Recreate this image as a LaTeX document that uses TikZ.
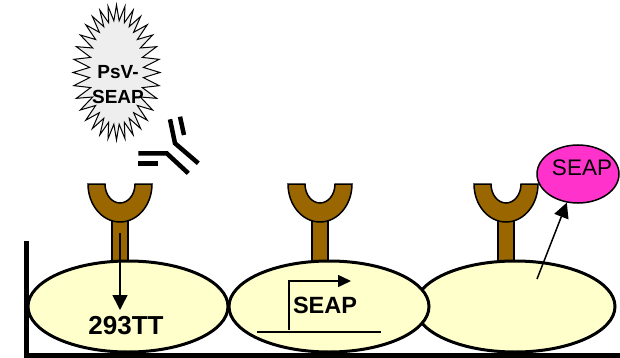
\documentclass[tikz,border=0pt]{standalone}
\usepackage{fontspec}
\setmainfont{Liberation Sans}
\usetikzlibrary{arrows.meta,shapes.geometric}
\definecolor{cellfill}{HTML}{FFFFCC}
\definecolor{receptorbrown}{HTML}{996600}
\definecolor{virusgray}{HTML}{EEEEEE}
\definecolor{seapmagenta}{HTML}{FF33CC}
\tikzset{
  receptor/.pic={
    % stem
    \filldraw[fill=receptorbrown, draw=black, line width=1.5pt] (-8,34) rectangle (8,79);
    % cup
    \filldraw[fill=receptorbrown, draw=black, line width=1.5pt]
      (-32,0) -- (-15,0)
      arc[start angle=180, end angle=0, x radius=15, y radius=19]
      -- (32,0)
      arc[start angle=0, end angle=180, x radius=32, y radius=38] -- cycle;
    \coordinate (-stem) at (0,49);
  }
}
\begin{document}
\begin{tikzpicture}[x=1pt, y=-1pt,
  cell/.style={ellipse, draw, line width=3pt, fill=cellfill,
    minimum width=200pt, minimum height=91pt, inner sep=0pt},
  celltext/.style={font=\bfseries\fontsize{26}{28}\selectfont, inner sep=0pt},
  genetext/.style={font=\bfseries\fontsize{23.5}{26}\selectfont, inner sep=0pt},
  bursttext/.style={font=\bfseries\fontsize{19}{25.5}\selectfont, inner sep=0pt, align=center},
  product/.style={ellipse, draw, line width=1.5pt, fill=seapmagenta,
    minimum width=82pt, minimum height=58pt, inner sep=0pt},
  producttext/.style={font=\fontsize{22.5}{24}\selectfont, inner sep=0pt},
  arr/.style={line width=1.5pt, -{Triangle[length=15pt, width=15pt]}},
  arrsmall/.style={line width=1.5pt, -{Triangle[length=13pt, width=12pt]}},
  burst/.style={draw, line width=1pt, fill=virusgray, line join=miter},
  chain/.style={line width=4.5pt},
]
\useasboundingbox (0,0) rectangle (620,358);

% receptors on the cell surface
\pic (r1) at (120,184) {receptor};
\pic (r2) at (320,184) {receptor};
\pic (r3) at (506,184) {receptor};

% cells
\node[cell] (c3) at (515,306.5) {};
\node[cell] (c1) at (128,306.5) {};
\node[cell] (c2) at (329,306.5) {};

% dish wall and floor
\draw[line width=5pt] (26,241) -- (26,355) -- (620,355);

% first cell: entry into 293TT
\node[celltext] (t1) at (126,326) {293TT};
\coordinate (a1) at (120,310);
\draw[arr] (r1-stem) -- (a1);

% second cell: reporter gene with promoter arrow
\node[genetext] (t2) at (325,305) {SEAP};
\coordinate (gl) at (257,332);
\coordinate (gr) at (381,332);
\draw[line width=1.5pt] (gl) -- (gr);
\coordinate (pb) at (289,330);
\coordinate (pt) at (351,281);
\draw[arrsmall] (pb) |- (pt);

% third cell: secreted SEAP
\node[product] (seap) at (578,174) {};
\node[producttext] (seaptext) at (582,168) {SEAP};
\coordinate (a3) at (537,279);
\draw[arr] (a3) -- (seap);

% pseudovirus burst: 32-point star
\begin{scope}[shift={(116.5,72.5)}]
  \draw[burst] (43.5,0)
    \foreach \i [evaluate=\i as \rx using {isodd(\i)?27:43.5},
                 evaluate=\i as \ry using {isodd(\i)?52:67.5},
                 evaluate=\i as \ang using {\i*5.625}] in {1,...,63} {
      -- ({\rx*cos(\ang)},{\ry*sin(\ang)})
    } -- cycle;
\end{scope}
\node[bursttext] (psv) at (118,84.5) {PsV-\\SEAP};

% antibody
\coordinate (h1a) at (170,119.3);
\coordinate (h1b) at (175,143.3);
\coordinate (h1c) at (198.3,163.3);
\coordinate (l1a) at (180,116.7);
\coordinate (l1b) at (184,135);
\coordinate (h2a) at (138.3,153.3);
\coordinate (h2b) at (166.7,153.3);
\coordinate (h2c) at (188.3,173.3);
\coordinate (l2a) at (138.3,163.3);
\coordinate (l2b) at (158.3,163.3);
\draw[chain] (h1a) -- (h1b) -- (h1c);
\draw[chain] (l1a) -- (l1b);
\draw[chain] (h2a) -- (h2b) -- (h2c);
\draw[chain] (l2a) -- (l2b);
\end{tikzpicture}
\end{document}
